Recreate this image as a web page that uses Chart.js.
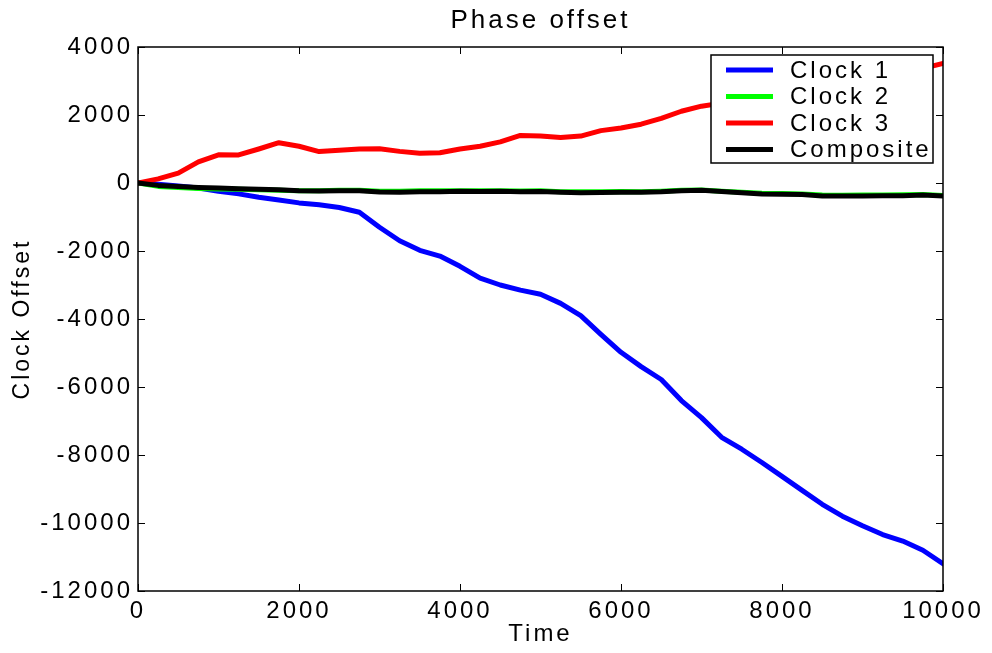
<!DOCTYPE html>
<html>
<head>
<meta charset="utf-8">
<title>Phase offset</title>
<script src="https://cdn.jsdelivr.net/npm/chart.js@4.4.1/dist/chart.umd.min.js"></script>
<style>
  html, body { margin: 0; padding: 0; background: #fff; }
  #wrap { width: 992px; height: 653px; position: relative; }
</style>
</head>
<body>
<div id="wrap"><canvas id="phaseChart"></canvas></div>
<script>
// time axis samples (every 250)
const times = [0, 250, 500, 750, 1000, 1250, 1500, 1750, 2000, 2250, 2500, 2750, 3000, 3250, 3500, 3750,
  4000, 4250, 4500, 4750, 5000, 5250, 5500, 5750, 6000, 6250, 6500, 6750, 7000, 7250, 7500, 7750,
  8000, 8250, 8500, 8750, 9000, 9250, 9500, 9750, 10000];

const clock1 = [0, -40, -90, -145, -240, -320, -420, -500, -585, -640, -720, -860, -1300, -1700, -1980, -2150,
  -2450, -2800, -3000, -3150, -3270, -3540, -3900, -4450, -4980, -5400, -5780, -6400, -6900, -7480, -7830, -8220,
  -8630, -9040, -9450, -9800, -10080, -10340, -10530, -10800, -11200];

const clock2 = [0, -100, -130, -160, -175, -185, -195, -210, -225, -225, -215, -215, -240, -240, -225, -230,
  -225, -230, -225, -235, -230, -255, -260, -260, -250, -255, -240, -215, -205, -240, -275, -300,
  -310, -320, -355, -360, -350, -350, -345, -340, -370];

const clock3 = [0, 120, 290, 620, 830, 826, 1000, 1185, 1080, 925, 965, 1000, 1010, 930, 875, 890,
  1000, 1080, 1210, 1400, 1385, 1340, 1380, 1540, 1620, 1730, 1900, 2110, 2260, 2350, 2450, 2560,
  2650, 2750, 2850, 2950, 3050, 3150, 3260, 3370, 3520];

const composite = [0, -70, -100, -130, -150, -170, -185, -200, -230, -235, -225, -225, -265, -270, -260, -255,
  -240, -250, -245, -255, -250, -270, -285, -280, -270, -275, -260, -230, -215, -250, -290, -320,
  -330, -340, -385, -385, -380, -375, -375, -355, -385];

const seriesNames = ['Clock 1', 'Clock 2', 'Clock 3', 'Composite'];
const seriesColors = ['#0000ff', '#00ff00', '#ff0000', '#000000'];
const xTicks = [0, 2000, 4000, 6000, 8000, 10000];
const yTicks = [-12000, -10000, -8000, -6000, -4000, -2000, 0, 2000, 4000];

const FONT = 'Liberation Sans, Arial, Helvetica, sans-serif';
const SPACING = '3px';

function toPoints(vals) {
  return times.map((t, i) => ({ x: t, y: vals[i] }));
}

// MATLAB style text is spaced out a bit
const spacing = {
  id: 'spacing',
  beforeLayout(chart) { chart.ctx.letterSpacing = SPACING; },
  beforeDraw(chart) { chart.ctx.letterSpacing = SPACING; }
};

// box, inward ticks and the legend inside the plot
const frame = {
  id: 'frame',
  afterDatasetsDraw(chart) {
    const { ctx, chartArea: a, scales } = chart;
    ctx.save();
    ctx.strokeStyle = '#000';
    ctx.lineWidth = 1.5;
    ctx.strokeRect(a.left, a.top, a.right - a.left, a.bottom - a.top);

    const tl = 7;
    ctx.lineWidth = 1;
    ctx.beginPath();
    xTicks.forEach(v => {
      const x = Math.round(scales.x.getPixelForValue(v)) + 0.5;
      ctx.moveTo(x, a.bottom); ctx.lineTo(x, a.bottom - tl);
      ctx.moveTo(x, a.top); ctx.lineTo(x, a.top + tl);
    });
    yTicks.forEach(v => {
      const y = Math.round(scales.y.getPixelForValue(v)) + 0.5;
      ctx.moveTo(a.left, y); ctx.lineTo(a.left + tl, y);
      ctx.moveTo(a.right, y); ctx.lineTo(a.right - tl, y);
    });
    ctx.stroke();

    // legend
    const bw = 222, bh = 108;
    const bx = a.right - 10 - bw, by = a.top + 8;
    ctx.fillStyle = '#fff';
    ctx.fillRect(bx, by, bw, bh);
    ctx.lineWidth = 1.5;
    ctx.strokeRect(bx, by, bw, bh);
    ctx.font = '24px ' + FONT;
    ctx.letterSpacing = SPACING;
    ctx.textBaseline = 'middle';
    ctx.textAlign = 'left';
    chart.data.datasets.forEach((ds, i) => {
      const y = by + 15 + i * 26.5;
      ctx.strokeStyle = ds.borderColor;
      ctx.lineWidth = 5;
      ctx.beginPath();
      ctx.moveTo(bx + 15, y);
      ctx.lineTo(bx + 62, y);
      ctx.stroke();
      ctx.fillStyle = '#000';
      ctx.fillText(ds.label, bx + 79, y + 1);
    });
    ctx.restore();
  }
};

Chart.defaults.font.family = FONT;
Chart.defaults.font.size = 24;
Chart.defaults.color = '#000';

const order = [4, 3, 2, 1];
const datasets = [clock1, clock2, clock3, composite].map((vals, i) => ({
  label: seriesNames[i],
  data: toPoints(vals),
  borderColor: seriesColors[i],
  backgroundColor: seriesColors[i],
  borderWidth: 5,
  pointRadius: 0,
  tension: 0,
  borderJoinStyle: 'round',
  borderCapStyle: 'round',
  order: order[i]
}));

const ctx = document.getElementById('phaseChart').getContext('2d');
const phaseChart = new Chart(ctx, {
  type: 'line',
  data: { datasets },
  options: {
    responsive: true,
    maintainAspectRatio: false,
    animation: false,
    layout: { padding: { left: 0, right: 49, top: 0, bottom: 0 } },
    plugins: {
      legend: { display: false },
      tooltip: { enabled: false },
      title: {
        display: true,
        text: 'Phase offset',
        fullSize: false,
        font: { size: 26, weight: 'normal', lineHeight: 1.2 },
        padding: { top: 5, bottom: 10.8 }
      }
    },
    scales: {
      x: {
        type: 'linear',
        min: 0,
        max: 10000,
        grid: { display: false, drawTicks: false },
        border: { display: false },
        afterBuildTicks: s => { s.ticks = xTicks.map(v => ({ value: v })); },
        afterFit: s => { s.height = 62; },
        ticks: { padding: 6, maxRotation: 0, autoSkip: false, callback: v => String(v) },
        title: { display: true, text: 'Time', font: { size: 24, lineHeight: 1.2 }, padding: { top: 0, bottom: 4 } }
      },
      y: {
        type: 'linear',
        min: -12000,
        max: 4000,
        grid: { display: false, drawTicks: false },
        border: { display: false },
        afterBuildTicks: s => { s.ticks = yTicks.map(v => ({ value: v })); },
        afterFit: s => { s.width = 138; },
        ticks: { padding: 5, autoSkip: false, callback: v => String(v) },
        title: { display: true, text: 'Clock Offset', font: { size: 23, lineHeight: 1.2 }, padding: { top: 9, bottom: 0 } }
      }
    }
  },
  plugins: [spacing, frame]
});
</script>
</body>
</html>
